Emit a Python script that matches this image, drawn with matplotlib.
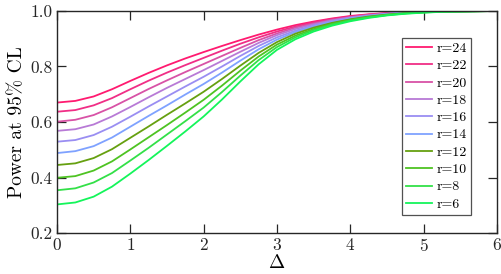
import numpy as np
import matplotlib
matplotlib.use("Agg")
import matplotlib.pyplot as plt

plt.rcParams['font.family'] = 'cmr10'
plt.rcParams['mathtext.fontset'] = 'cm'
plt.rcParams['axes.unicode_minus'] = False
plt.rcParams['axes.formatter.use_mathtext'] = True

# Delta grid, values every 0.25
delta = np.arange(0, 6.01, 0.25)

r_labels = ['r=24', 'r=22', 'r=20', 'r=18', 'r=16', 'r=14', 'r=12', 'r=10', 'r=8', 'r=6']

p_r24 = [.670, .676, .692, .718, .748, .777, .804, .829, .852, .874, .895, .915, .933,
         .949, .962, .973, .982, .988, .993, .996, .998, .999, .9995, .9998, 1.0]
p_r22 = [.637, .643, .660, .686, .718, .749, .778, .805, .831, .857, .882, .905, .926,
         .944, .959, .971, .980, .987, .992, .995, .998, .999, .9994, .9997, 1.0]
p_r20 = [.601, .608, .625, .653, .686, .719, .750, .780, .809, .838, .867, .895, .919,
         .940, .955, .968, .978, .986, .991, .995, .997, .999, .9992, .9996, 1.0]
p_r18 = [.568, .574, .591, .620, .654, .689, .723, .755, .787, .820, .853, .885, .913,
         .935, .952, .966, .977, .984, .990, .994, .997, .998, .9991, .9996, 1.0]
p_r16 = [.529, .535, .553, .583, .619, .656, .692, .728, .763, .800, .838, .874, .905,
         .929, .948, .963, .975, .983, .990, .994, .996, .998, .9989, .9995, 1.0]
p_r14 = [.488, .495, .513, .544, .583, .622, .660, .699, .737, .778, .821, .862, .897,
         .924, .944, .960, .973, .982, .989, .993, .996, .998, .9988, .9994, 1.0]
p_r12 = [.445, .451, .470, .502, .543, .584, .626, .667, .709, .755, .803, .849, .888,
         .918, .940, .957, .970, .980, .987, .992, .996, .998, .9986, .9993, 1.0]
p_r10 = [.399, .405, .425, .458, .501, .545, .589, .634, .680, .731, .785, .836, .879,
         .911, .935, .954, .968, .978, .986, .992, .995, .998, .9984, .9992, 1.0]
p_r8 = [.354, .361, .382, .416, .461, .507, .555, .603, .652, .708, .767, .823, .870,
        .905, .931, .951, .966, .977, .985, .991, .995, .997, .9982, .9991, 1.0]
p_r6 = [.303, .310, .331, .367, .414, .463, .514, .566, .620, .681, .746, .808, .860,
        .898, .926, .947, .963, .975, .984, .990, .994, .997, .998, .999, 1.0]

series = [p_r24, p_r22, p_r20, p_r18, p_r16, p_r14, p_r12, p_r10, p_r8, p_r6]
colors = ['#ff1a70', '#f02e86', '#d852a6', '#b87ad6', '#9a8ef2', '#7fa2ff',
          '#66a010', '#4ec322', '#33e048', '#14f55a']

fig = plt.figure(figsize=(5.02, 2.74), dpi=100)
ax = fig.add_axes([0.1135, 0.1496, 0.8765, 0.8103])

for p, c, lab in zip(series, colors, r_labels):
    ax.plot(delta, p, color=c, lw=1.3, label=lab, solid_joinstyle='round')

ax.set_xlim(0, 6)
ax.set_ylim(0.2, 1.0)
ax.set_xticks([0, 1, 2, 3, 4, 5, 6])
ax.set_yticks([0.2, 0.4, 0.6, 0.8, 1.0])
ax.set_yticklabels(['0.2', '0.4', '0.6', '0.8', '1.0'])
ax.tick_params(direction='in', length=6.5, width=0.9, top=True, right=True,
               labelsize=12.5, colors='#262626', pad=3)
for s in ax.spines.values():
    s.set_linewidth(1.0)
    s.set_color('#262626')

ax.set_xlabel(r'$\Delta$', fontsize=14, labelpad=0)
ax.set_ylabel('Power at 95% CL', fontsize=14, labelpad=3)

leg = ax.legend(loc='upper right', bbox_to_anchor=(0.941, 0.878), fontsize=10,
                frameon=True, fancybox=False, edgecolor='#262626',
                handlelength=1.9, handletextpad=0.3, labelspacing=0.33,
                borderpad=0.3, borderaxespad=0)
leg.get_frame().set_linewidth(0.9)

fig.savefig('out.png', dpi=100)
